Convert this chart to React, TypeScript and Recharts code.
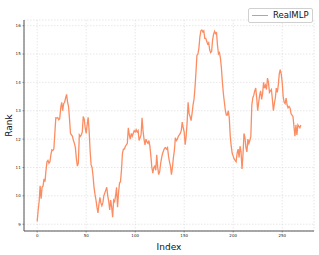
import React from "react"
import {
  LineChart,
  Line,
  XAxis,
  YAxis,
  CartesianGrid,
  Legend,
} from "recharts"

// rank per index
const RANK = [
  9.1, 9.5, 9.8, 10.35, 9.9, 10.3, 10.35, 10.6, 10.5, 10.9,
  11.2, 11.25, 11.15, 11.2, 11.45, 11.62, 11.6, 11.65, 12.2, 12.75,
  12.74, 12.76, 12.68, 12.72, 13.1, 13.3, 13.0, 13.25, 13.3, 13.45,
  13.58, 13.3, 13.15, 12.7, 12.2, 12.15, 12.1, 11.95, 11.85, 11.7,
  11.3, 11.05, 11.15, 12.15, 12.1, 12.15, 12.25, 12.8, 12.7, 12.4,
  12.2, 12.5, 12.77, 12.3, 11.6, 11.1, 11.0, 10.7, 10.3, 10.05,
  9.85, 9.6, 9.4, 9.7, 9.95, 9.75, 9.65, 9.75, 10.0, 10.1,
  10.2, 10.3, 10.0, 9.8, 9.5, 9.85, 9.6, 9.25, 9.85, 9.8,
  10.0, 10.3, 9.6, 10.1, 10.45, 10.5, 10.9, 11.5, 11.65, 11.65,
  11.75, 11.8, 11.85, 12.4, 12.15, 12.0, 12.2, 12.1, 12.2, 12.3,
  12.25, 12.33, 12.25, 12.3, 11.95, 12.05, 12.15, 12.75, 12.3, 12.0,
  11.8, 12.0, 11.9, 11.85, 11.95, 11.75, 11.4, 11.0, 10.8, 11.0,
  11.05, 10.9, 11.45, 11.0, 10.75, 10.85, 11.15, 11.35, 11.5, 11.6,
  11.68, 11.7, 11.65, 11.7, 11.4, 11.2, 11.05, 10.75, 11.0, 11.35,
  11.6, 12.05, 11.95, 12.0, 12.1, 12.15, 12.2, 12.3, 12.6, 12.4,
  12.25, 11.8, 12.1, 12.6, 13.3, 12.9, 12.8, 12.65, 12.9, 13.2,
  13.4, 13.8, 14.35, 14.95, 15.0, 15.2, 15.6, 15.82, 15.85, 15.78,
  15.82, 15.55, 15.55, 15.45, 15.35, 15.4, 15.15, 15.05, 15.1, 15.5,
  15.7, 15.8, 15.72, 15.75, 15.3, 15.0, 15.05, 14.85, 14.5, 14.0,
  13.6, 13.3, 13.0, 12.85, 12.85, 13.0, 12.75, 12.1, 11.75, 11.5,
  11.4, 11.3, 11.25, 11.2, 11.5, 11.65, 11.35, 11.75, 11.55, 10.95,
  11.45, 12.2, 12.05, 11.7, 11.55, 12.0, 11.85, 11.95, 12.1, 13.2,
  13.45, 13.55, 13.7, 13.8, 13.45, 13.0, 13.3, 13.55, 13.7, 13.4,
  13.6, 14.0, 13.8, 13.9, 13.75, 14.15, 14.0, 13.65, 13.7, 13.75,
  13.4, 13.0, 13.25, 13.45, 13.8, 13.65, 13.9, 14.3, 14.45, 14.3,
  14.0, 13.5, 13.3, 13.25, 13.45, 13.2, 13.1, 13.15, 13.1, 12.9,
  12.85, 12.8, 12.45, 12.1, 12.5, 12.15, 12.5, 12.45, 12.4, 12.5,
]

const X_TICKS = [0, 50, 100, 150, 200, 250]
const Y_TICKS = [9, 10, 11, 12, 13, 14, 15, 16]
const SERIES_NAME = "RealMLP"

const LINE_COLOR = "#fc8d62"
const SPINE = "#555"
const FONT = "DejaVu Sans, sans-serif"

const data = RANK.map((v, i) => ({ index: i, rank: v }))

function LegendBox() {
  return (
    <div
      style={{
        display: "flex",
        alignItems: "center",
        border: "1px solid #d0d0d0",
        borderRadius: 2,
        background: "rgba(255,255,255,0.85)",
        padding: "2px 3px",
        fontFamily: FONT,
        fontSize: 8.5,
        color: "#111",
        lineHeight: "9px",
      }}
    >
      <span style={{ display: "inline-block", width: 16, height: 1.3, background: LINE_COLOR, marginRight: 5 }} />
      {SERIES_NAME}
    </div>
  )
}

export default function App() {
  const tick = { fontSize: 4, fill: "#222", fontFamily: FONT }
  return (
    <div style={{ position: "absolute", left: 0, top: 0, width: 319, height: 255, background: "#fff" }}>
      <LineChart width={319} height={255} data={data} margin={{ top: 5, right: 5, left: 0, bottom: 0 }}>
        <CartesianGrid stroke="#d6d6d6" strokeDasharray="1.5 1.5" strokeWidth={0.6} />
        <XAxis
          dataKey="index"
          type="number"
          domain={[-13.45, 282.45]}
          ticks={X_TICKS}
          allowDataOverflow
          height={24}
          tick={tick}
          tickSize={1.5}
          tickMargin={2}
          tickLine={{ stroke: SPINE, strokeWidth: 0.6 }}
          axisLine={{ stroke: SPINE, strokeWidth: 1.2 }}
          label={{ value: "Index", position: "insideBottom", offset: 5, fontSize: 9, fill: "#111", fontFamily: FONT }}
        />
        <XAxis
          xAxisId="top"
          orientation="top"
          dataKey="index"
          type="number"
          domain={[-13.45, 282.45]}
          height={0}
          tick={false}
          tickLine={false}
          axisLine={{ stroke: SPINE, strokeWidth: 1 }}
        />
        <YAxis
          type="number"
          domain={[8.76, 16.2]}
          ticks={Y_TICKS}
          allowDataOverflow
          width={24}
          tick={tick}
          tickSize={1.5}
          tickMargin={1.8}
          tickLine={{ stroke: SPINE, strokeWidth: 0.6 }}
          axisLine={{ stroke: SPINE, strokeWidth: 1 }}
          label={{
            content: (p: any) => {
              const vb = p.viewBox
              const cx = 9
              const cy = vb.y + vb.height / 2
              return (
                <text x={cx} y={cy} transform={`rotate(-90 ${cx} ${cy})`} textAnchor="middle" dominantBaseline="central" fontSize={9} fill="#111" fontFamily={FONT}>
                  Rank
                </text>
              )
            },
          }}
        />
        <YAxis
          yAxisId="right"
          orientation="right"
          type="number"
          domain={[8.76, 16.2]}
          width={0}
          tick={false}
          tickLine={false}
          axisLine={{ stroke: SPINE, strokeWidth: 1 }}
        />
        <Legend
          verticalAlign="top"
          align="right"
          content={() => <LegendBox />}
          wrapperStyle={{ position: "absolute", top: 8, left: 248, width: "auto" }}
        />
        <Line
          dataKey="rank"
          name={SERIES_NAME}
          type="linear"
          stroke={LINE_COLOR}
          strokeWidth={1.3}
          dot={false}
          isAnimationActive={false}
        />
      </LineChart>
    </div>
  )
}
